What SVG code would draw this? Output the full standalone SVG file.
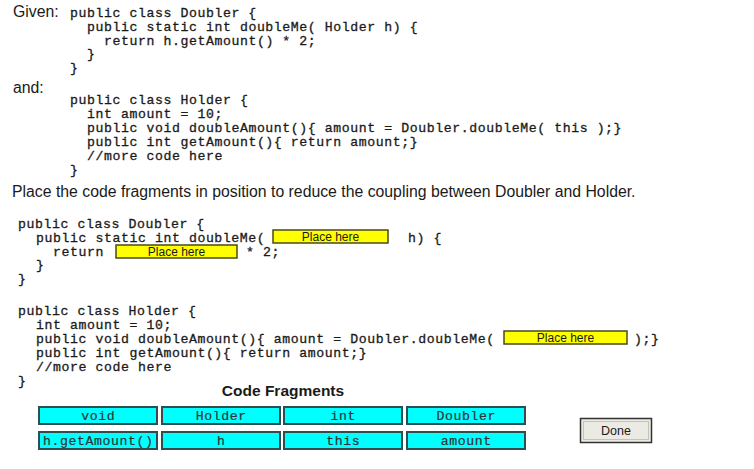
<svg xmlns="http://www.w3.org/2000/svg" width="754" height="469" viewBox="0 0 754 469">
<style>
.code{font-family:"Liberation Mono","Courier New",monospace;font-size:13.2px;letter-spacing:0.58px;fill:#1a1a1a;stroke:#1a1a1a;stroke-width:0.3px;}
.sans{font-family:"Liberation Sans",Arial,sans-serif;font-size:15.8px;fill:#1a1a1a;}
.title{font-family:"Liberation Sans",Arial,sans-serif;font-size:15.5px;font-weight:bold;fill:#1a1a1a;}
.ph rect{fill:#ffff00;stroke:#4a4a1a;stroke-width:1.5;}
.ph text{font-family:"Liberation Sans",Arial,sans-serif;font-size:12px;fill:#1a1a1a;text-anchor:middle;}
.frag rect{fill:#00ffff;stroke:#2f4f4f;stroke-width:2;}
.frag text{font-family:"Liberation Mono","Courier New",monospace;font-size:13.2px;letter-spacing:0.58px;fill:#333;stroke:#333;stroke-width:0.2px;text-anchor:middle;}
.btn text{font-family:"Liberation Sans",Arial,sans-serif;font-size:12.5px;fill:#1a1a1a;text-anchor:middle;}
</style>
<rect width="754" height="469" fill="#ffffff"/>

<g id="given">
<text class="sans" x="13" y="17">Given:</text>
<text class="code" x="70" y="17">public class Doubler {</text>
<text class="code" x="87" y="31">public static int doubleMe( Holder h) {</text>
<text class="code" x="104" y="45">return h.getAmount() * 2;</text>
<text class="code" x="87" y="58">}</text>
<text class="code" x="70" y="72">}</text>
</g>

<g id="and">
<text class="sans" x="13" y="93">and:</text>
<text class="code" x="70" y="104">public class Holder {</text>
<text class="code" x="87" y="118">int amount = 10;</text>
<text class="code" x="87" y="132">public void doubleAmount(){ amount = Doubler.doubleMe( this );}</text>
<text class="code" x="87" y="146">public int getAmount(){ return amount;}</text>
<text class="code" x="87" y="160">//more code here</text>
<text class="code" x="70" y="174">}</text>
</g>

<text class="sans" x="12" y="197">Place the code fragments in position to reduce the coupling between Doubler and Holder.</text>

<g id="doubler-template">
<text class="code" x="18" y="228">public class Doubler {</text>
<text class="code" x="36" y="242">public static int doubleMe(</text>
<text class="code" x="408" y="242">h) {</text>
<text class="code" x="53" y="256">return</text>
<text class="code" x="246" y="256">* 2;</text>
<text class="code" x="36" y="269">}</text>
<text class="code" x="18" y="283">}</text>
</g>

<g id="holder-template">
<text class="code" x="18" y="315">public class Holder {</text>
<text class="code" x="36" y="329">int amount = 10;</text>
<text class="code" x="36" y="343">public void doubleAmount(){ amount = Doubler.doubleMe(</text>
<text class="code" x="634" y="343">);}</text>
<text class="code" x="36" y="357">public int getAmount(){ return amount;}</text>
<text class="code" x="36" y="371">//more code here</text>
<text class="code" x="18" y="385">}</text>
</g>

<g id="slot1" class="ph"><rect x="273" y="230" width="115" height="13"/><text x="330.5" y="241">Place here</text></g>
<g id="slot2" class="ph"><rect x="116" y="245" width="121" height="13"/><text x="176.5" y="256">Place here</text></g>
<g id="slot3" class="ph"><rect x="504" y="331" width="123" height="13"/><text x="565.5" y="342">Place here</text></g>

<text class="title" x="283" y="396" text-anchor="middle">Code Fragments</text>

<g id="frag-void" class="frag"><rect x="39" y="407" width="118" height="17"/><text x="98.3" y="420">void</text></g>
<g id="frag-Holder" class="frag"><rect x="162" y="407" width="118" height="17"/><text x="221.3" y="420">Holder</text></g>
<g id="frag-int" class="frag"><rect x="284" y="407" width="118" height="17"/><text x="343.3" y="420">int</text></g>
<g id="frag-Doubler" class="frag"><rect x="407" y="407" width="118" height="17"/><text x="466.3" y="420">Doubler</text></g>
<g id="frag-getAmount" class="frag"><rect x="39" y="432" width="118" height="17"/><text x="98.3" y="445">h.getAmount()</text></g>
<g id="frag-h" class="frag"><rect x="162" y="432" width="118" height="17"/><text x="221.3" y="445">h</text></g>
<g id="frag-this" class="frag"><rect x="284" y="432" width="118" height="17"/><text x="343.3" y="445">this</text></g>
<g id="frag-amount" class="frag"><rect x="407" y="432" width="118" height="17"/><text x="466.3" y="445">amount</text></g>

<g id="done" class="btn">
<rect x="580.5" y="418.5" width="71" height="24" fill="#ecebe3" stroke="#333" stroke-width="1.5"/>
<rect x="583.5" y="421.5" width="65" height="18" fill="none" stroke="#9a9a90" stroke-width="1" stroke-dasharray="1 1"/>
<text x="616" y="435">Done</text>
</g>
</svg>
